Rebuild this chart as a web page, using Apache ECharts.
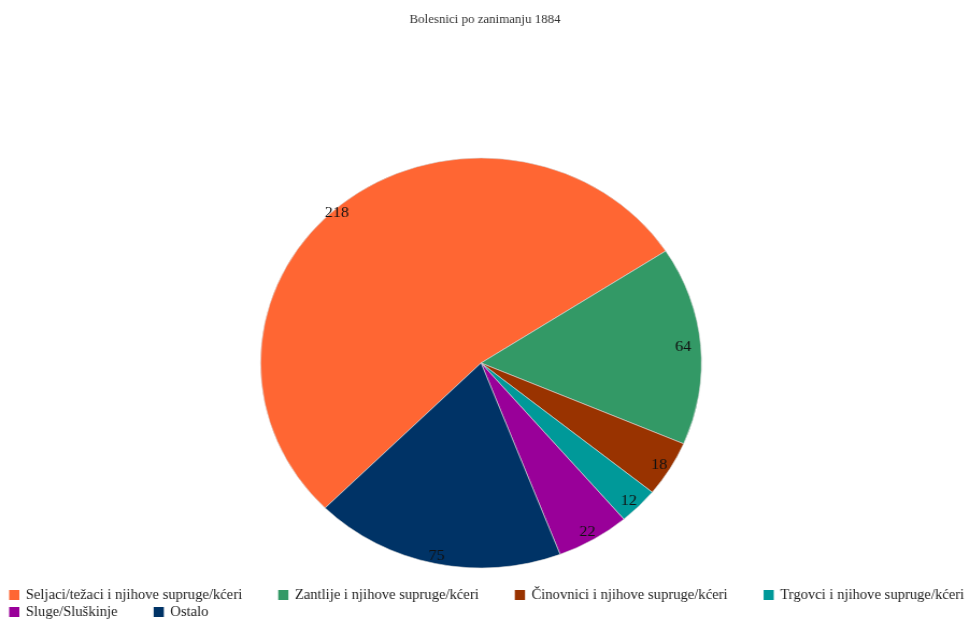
<!DOCTYPE html>
<html>
<head>
<meta charset="utf-8">
<script src="https://cdn.jsdelivr.net/npm/echarts@6/dist/echarts.min.js"></script>
<style>
html,body{margin:0;padding:0;background:#fff;overflow:hidden;}
#wrap{width:970px;height:620px;overflow:hidden;}
#chart{width:902px;height:620px;transform:scaleX(1.0754);transform-origin:0 0;}
</style>
</head>
<body>
<div id="wrap"><div id="chart"></div></div>
<script>
const titleText = 'Bolesnici po zanimanju 1884';
const categories = [
  'Seljaci/težaci i njihove supruge/kćeri',
  'Zantlije i njihove supruge/kćeri',
  'Činovnici i njihove supruge/kćeri',
  'Trgovci i njihove supruge/kćeri',
  'Sluge/Sluškinje',
  'Ostalo'
];
const values = [218, 64, 18, 12, 22, 75];
const colors = ['#FF6633', '#339966', '#993300', '#009999', '#990099', '#003366'];

const font = '"Liberation Serif", "Times New Roman", serif';
const data = categories.map((c, i) => ({ name: c, value: values[i], itemStyle: { color: colors[i] } }));
const chart = echarts.init(document.getElementById('chart'), null, { renderer: 'canvas', width: 902, height: 620 });
const center = [447.3, 363];
const R = 205;
const labelOffsets = [[-12, 0], [-5, 1], [0, 2], [-1, 3], [0, 3], [-1, 4]];
chart.setOption({
  animation: false,
  title: {
    text: titleText, left: 'center', top: 9,
    textStyle: { fontFamily: font, fontSize: 12, fontWeight: 'normal', color: '#333' }
  },
  legend: {
    data: categories,
    left: 8.5, top: 588, width: 940,
    padding: 0,
    orient: 'horizontal',
    itemWidth: 9.5, itemHeight: 10, itemGap: 3,
    icon: 'rect',
    itemStyle: { borderWidth: 0 },
    textStyle: { fontFamily: font, fontSize: 13.6, lineHeight: 14, color: '#222', padding: [0, 30.5, 0, 1] }
  },
  series: [
    {
      type: 'pie',
      center: center, radius: [0, R],
      startAngle: 225, clockwise: true,
      data: data,
      label: { show: false },
      labelLine: { show: false },
      itemStyle: { borderColor: '#d8d8d8', borderWidth: 0.6 },
      emphasis: { disabled: true }
    },
    {
      type: 'pie',
      center: center, radius: [R * 0.86, R],
      startAngle: 225, clockwise: true,
      silent: true,
      legendHoverLink: false,
      data: data.map((d, i) => ({ name: d.name, value: d.value, itemStyle: { color: 'rgba(0,0,0,0)' }, label: { offset: labelOffsets[i] } })),
      label: { show: true, position: 'inside', formatter: '{c}', fontFamily: font, fontSize: 15, color: '#111' },
      labelLine: { show: false },
      itemStyle: { borderWidth: 0 },
      emphasis: { disabled: true }
    }
  ]
});
</script>
</body>
</html>
